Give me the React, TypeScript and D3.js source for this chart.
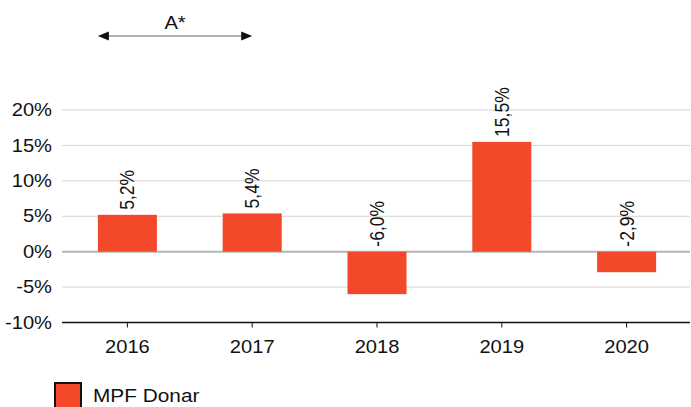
import React from "react";
import * as d3 from "d3";

const categories = ["2016", "2017", "2018", "2019", "2020"];
const values = [5.2, 5.4, -6.0, 15.5, -2.9];
const valueLabels = ["5,2%", "5,4%", "-6,0%", "15,5%", "-2,9%"];
const yTicks = [-10, -5, 0, 5, 10, 15, 20];
const seriesName = "MPF Donar";
const arrowLabel = "A*";

const W = 691;
const H = 407;
const FONT = "'Liberation Sans', Arial, Helvetica, sans-serif";
const BAR = "#f4482a";
const FS = 17.5;
const SX = 1.15;

function HText(props: {
  x: number;
  y: number;
  anchor?: "start" | "middle" | "end";
  dy?: string;
  sx?: number;
  children: React.ReactNode;
}) {
  const s = props.sx ?? SX;
  return (
    <text
      transform={`translate(${props.x},${props.y}) scale(${s},1)`}
      textAnchor={props.anchor ?? "start"}
      dy={props.dy}
      fontSize={FS}
      fill="#111"
    >
      {props.children}
    </text>
  );
}

export default function App() {
  const y = d3.scaleLinear().domain([-10, 20]).range([322.5, 110]);
  const x = d3
    .scaleBand<string>()
    .domain(categories)
    .range([65, 689])
    .paddingInner(0.527)
    .paddingOuter(0.2635);
  const bw = x.bandwidth();
  const gridLeft = 62;
  const gridRight = 690;
  const arrowX1 = x(categories[0])!;
  const arrowX2 = x(categories[1])! + bw / 2;
  const arrowY = 36;

  return (
    <svg
      width={W}
      height={H}
      style={{ position: "absolute", left: 0, top: 0, background: "#fff" }}
      fontFamily={FONT}
    >
      {yTicks.map((t) =>
        t === -10 ? null : (
          <line
            key={t}
            x1={gridLeft}
            x2={gridRight}
            y1={y(t)}
            y2={y(t)}
            stroke={t === 0 ? "#b5b5b5" : "#d4d4d4"}
            strokeWidth={t === 0 ? 2 : 1}
          />
        )
      )}
      {yTicks.map((t) => (
        <HText key={"l" + t} x={52} y={y(t)} dy="0.35em" anchor="end">
          {t + "%"}
        </HText>
      ))}
      {values.map((v, i) => {
        const c = categories[i];
        const y0 = y(0);
        const y1 = y(v);
        return (
          <rect
            key={c}
            x={x(c)}
            y={Math.min(y0, y1)}
            width={bw}
            height={Math.abs(y1 - y0)}
            fill={BAR}
          />
        );
      })}
      {values.map((v, i) => {
        const c = categories[i];
        const cx = x(c)! + bw / 2;
        const top = y(Math.max(v, 0)) - 5;
        return (
          <text
            key={"v" + c}
            transform={`translate(${cx},${top}) rotate(-90) scale(1,${SX})`}
            dy="0.35em"
            textAnchor="start"
            fontSize={FS}
            fill="#111"
          >
            {valueLabels[i]}
          </text>
        );
      })}
      <line
        x1={gridLeft}
        x2={gridRight}
        y1={y(-10)}
        y2={y(-10)}
        stroke="#111"
        strokeWidth={1.5}
      />
      {categories.map((c) => {
        const cx = x(c)! + bw / 2;
        return (
          <g key={"t" + c}>
            <line x1={cx} x2={cx} y1={y(-10)} y2={y(-10) + 5} stroke="#111" strokeWidth={1} />
            <HText x={cx} y={353} anchor="middle">
              {c}
            </HText>
          </g>
        );
      })}
      <line
        x1={arrowX1 + 8}
        x2={arrowX2 - 8}
        y1={arrowY}
        y2={arrowY}
        stroke="#999"
        strokeWidth={1.5}
      />
      <path
        d={`M${arrowX1},${arrowY} L${arrowX1 + 11},${arrowY - 4.5} L${arrowX1 + 11},${arrowY + 4.5} Z`}
        fill="#111"
      />
      <path
        d={`M${arrowX2},${arrowY} L${arrowX2 - 11},${arrowY - 4.5} L${arrowX2 - 11},${arrowY + 4.5} Z`}
        fill="#111"
      />
      <HText x={(arrowX1 + arrowX2) / 2} y={29} anchor="middle">
        {arrowLabel}
      </HText>
      <rect x={55} y={383} width={26} height={26} fill={BAR} stroke="#111" strokeWidth={2} />
      <HText x={93} y={402} sx={1.19}>
        {seriesName}
      </HText>
    </svg>
  );
}
